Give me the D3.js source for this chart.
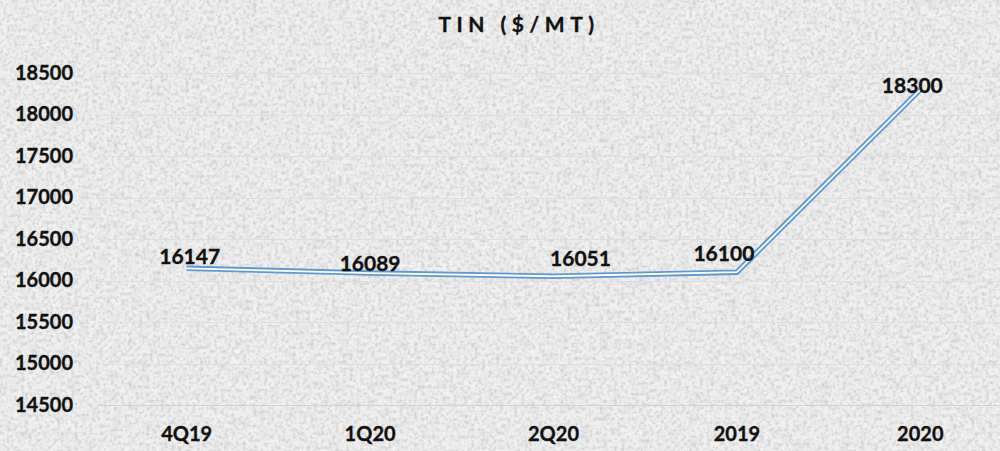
<!DOCTYPE html>
<html>
<head>
<meta charset="utf-8">
<script src="https://cdn.jsdelivr.net/npm/d3@7"></script>
<style>
  html, body { margin: 0; padding: 0; background: #e9e9e9; }
  svg { display: block; }
  text { font-family: Lato, "Open Sans", sans-serif; font-weight: 700; fill: #111; stroke: #111; stroke-width: 0.35px; }
</style>
</head>
<body>
<svg id="chart" width="1000" height="451"></svg>
<script>
// Tin price, $ per metric ton
const categories = ["4Q19", "1Q20", "2Q20", "2019", "2020"];
const prices = [16147, 16089, 16051, 16100, 18300];
const yTicks = [14500, 15000, 15500, 16000, 16500, 17000, 17500, 18000, 18500];
const title = "TIN ($/MT)";

// nudges for value labels so they sit clear of the line
const labelNudge = [[3, -10], [0, -8], [27, -16], [-13, -17], [-8, -2]];

const W = 1000, H = 451;
const svg = d3.select("#chart");

// grainy paper background
const defs = svg.append("defs");
const f = defs.append("filter").attr("id", "grain")
  .attr("x", 0).attr("y", 0).attr("width", "100%").attr("height", "100%");
f.append("feTurbulence").attr("type", "fractalNoise")
  .attr("baseFrequency", 0.28).attr("numOctaves", 2).attr("seed", 7).attr("result", "n");
f.append("feColorMatrix").attr("in", "n").attr("type", "matrix")
  .attr("values", "0 0 0 0 0.35  0 0 0 0 0.35  0 0 0 0 0.35  0 0 0 -2.4 1.4")
  .attr("result", "a");
f.append("feComponentTransfer").attr("in", "a").attr("result", "b")
  .append("feFuncA").attr("type", "linear").attr("slope", 0.5).attr("intercept", 0);
f.append("feFlood").attr("flood-color", "#f2f2f2").attr("result", "base");
f.append("feComposite").attr("in", "b").attr("in2", "base").attr("operator", "over");

const g2 = defs.append("filter").attr("id", "grain2")
  .attr("x", 0).attr("y", 0).attr("width", "100%").attr("height", "100%");
g2.append("feTurbulence").attr("type", "fractalNoise")
  .attr("baseFrequency", 0.1).attr("numOctaves", 3).attr("seed", 3).attr("result", "n");
g2.append("feColorMatrix").attr("in", "n").attr("type", "matrix")
  .attr("values", "0 0 0 0 0.55  0 0 0 0 0.55  0 0 0 0 0.55  0 0 0 -1.6 1.0");

svg.append("rect").attr("width", W).attr("height", H).attr("fill", "#ededed");
svg.append("rect").attr("width", W).attr("height", H).attr("filter", "url(#grain)").attr("opacity", 0.9);
svg.append("rect").attr("width", W).attr("height", H).attr("filter", "url(#grain2)").attr("opacity", 0.3);

// scales
const x = d3.scaleBand().domain(categories).range([95, 1012]);
const y = d3.scaleLinear().domain([14500, 18500]).range([405, 73]);

// horizontal gridlines
svg.append("g")
  .selectAll("line").data(yTicks).join("line")
  .attr("x1", 97).attr("x2", W)
  .attr("y1", d => Math.round(y(d)) + 0.5).attr("y2", d => Math.round(y(d)) + 0.5)
  .attr("stroke", d => d === 14500 ? "#d2d2d2" : "#dedede").attr("stroke-width", 1);

// y axis labels
const yAxis = d3.axisLeft(y).tickValues(yTicks).tickSize(0).tickPadding(0).tickFormat(d3.format("d"));
svg.append("g").attr("transform", "translate(73,0)").call(yAxis)
  .call(g => g.select(".domain").remove())
  .selectAll("text")
  .style("font-family", "Lato, sans-serif").style("font-weight", 700)
  .style("font-size", "20px").attr("fill", "#111");

// x axis labels
const xAxis = d3.axisBottom(x).tickSize(0).tickPadding(0);
svg.append("g").attr("transform", "translate(0,427)").call(xAxis)
  .call(g => g.select(".domain").remove())
  .selectAll("text")
  .style("font-family", "Lato, sans-serif").style("font-weight", 700)
  .style("font-size", "20px").attr("fill", "#111");

// title
svg.append("text")
  .attr("x", 519).attr("y", 32)
  .attr("text-anchor", "middle")
  .style("font-size", "21px").style("letter-spacing", "5.5px")
  .text(title);

// compound (double) line
const pts = categories.map((c, i) => [x(c) + x.bandwidth() / 2, y(prices[i])]);
const line = d3.line();
svg.append("path").attr("d", line(pts)).attr("fill", "none")
  .attr("stroke", "#5b9bd5").attr("stroke-width", 5.5).attr("stroke-linejoin", "miter");
svg.append("path").attr("d", line(pts)).attr("fill", "none")
  .attr("stroke", "#ffffff").attr("stroke-width", 1.8).attr("stroke-linejoin", "miter");

// value labels
svg.append("g").selectAll("text").data(prices).join("text")
  .attr("x", (d, i) => pts[i][0] + labelNudge[i][0])
  .attr("y", (d, i) => pts[i][1] + labelNudge[i][1])
  .attr("text-anchor", "middle").attr("dominant-baseline", "middle")
  .style("font-size", "21px")
  .text(d => d);
</script>
</body>
</html>
